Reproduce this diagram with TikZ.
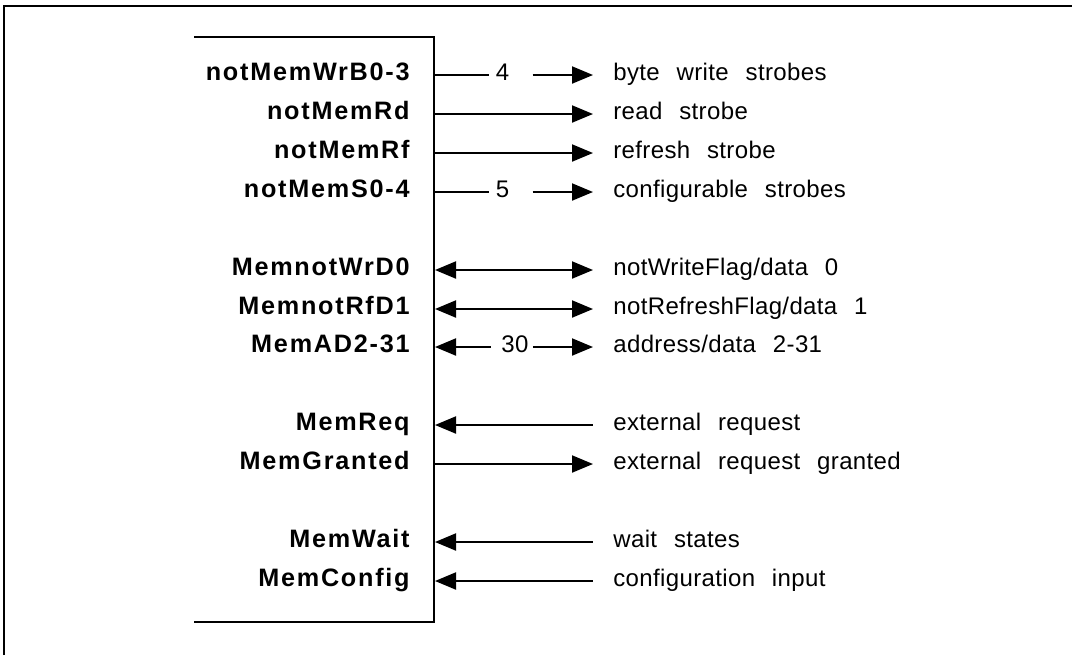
\documentclass[tikz,border=0pt]{standalone}
\usepackage{fontspec}
\setmainfont{Liberation Sans}
\newfontfamily\pinfont[LetterSpace=7]{Liberation Sans}
\newfontfamily\descfont[WordSpace=2.4,LetterSpace=1.5]{Liberation Sans}
\usetikzlibrary{arrows.meta}

\tikzset{
  frame/.style={line width=0.8pt},
  chip/.style={line width=1pt},
  pin/.style={font=\pinfont\bfseries\fontsize{12.6pt}{14pt}\selectfont, anchor=base east, inner sep=0pt},
  desc/.style={font=\descfont\fontsize{12pt}{14pt}\selectfont, anchor=base west, inner sep=0pt},
  buswidth/.style={font=\descfont\fontsize{12pt}{14pt}\selectfont, anchor=base, inner sep=0pt},
  wire/.style={line width=1pt},
  outwire/.style={wire, -{Triangle[length=10.5pt,width=8.5pt]}},
  inwire/.style={wire, {Triangle[length=10.5pt,width=8.5pt]}-},
  biwire/.style={wire, {Triangle[length=10.5pt,width=8.5pt]}-{Triangle[length=10.5pt,width=8.5pt]}}
}

\begin{document}
\begin{tikzpicture}[x=0.5pt, y=-0.5pt]
  \useasboundingbox (0,0) rectangle (1072,655);
  % frame and chip outline
  \draw[frame] (4,655) |- (1072,6);
  \draw[chip] (194,37) -| (434,622) -- (194,622);

  % strobes
  \node[pin] (pWrB) at (410,80) {notMemWrB0-3};
  \node[desc] (dWrB) at (613,80) {byte write strobes};
  \node[buswidth] (wWrB) at (502.5,80) {4};
  \coordinate (eWrB) at (434,75);
  \coordinate (tWrB) at (593,75);
  \draw[wire] (eWrB) -- ([xshift=-3pt]wWrB.west |- eWrB);
  \draw[outwire] ([xshift=11.5pt]wWrB.east |- eWrB) -- (tWrB);

  \node[pin] (pRd) at (410,119) {notMemRd};
  \node[desc] (dRd) at (613,119) {read strobe};
  \coordinate (eRd) at (434,114);
  \coordinate (tRd) at (593,114);
  \draw[outwire] (eRd) -- (tRd);

  \node[pin] (pRf) at (410,158) {notMemRf};
  \node[desc] (dRf) at (613,158) {refresh strobe};
  \coordinate (eRf) at (434,153);
  \coordinate (tRf) at (593,153);
  \draw[outwire] (eRf) -- (tRf);

  \node[pin] (pS) at (410,197) {notMemS0-4};
  \node[desc] (dS) at (613,197) {configurable strobes};
  \node[buswidth] (wS) at (502.5,197) {5};
  \coordinate (eS) at (434,192);
  \coordinate (tS) at (593,192);
  \draw[wire] (eS) -- ([xshift=-3pt]wS.west |- eS);
  \draw[outwire] ([xshift=11.5pt]wS.east |- eS) -- (tS);

  % address/data bus
  \node[pin] (pWrD) at (410,275) {MemnotWrD0};
  \node[desc] (dWrD) at (613,275) {notWriteFlag/data 0};
  \coordinate (eWrD) at (435,270);
  \coordinate (tWrD) at (593,270);
  \draw[biwire] (eWrD) -- (tWrD);

  \node[pin] (pRfD) at (410,314) {MemnotRfD1};
  \node[desc] (dRfD) at (613,314) {notRefreshFlag/data 1};
  \coordinate (eRfD) at (435,309);
  \coordinate (tRfD) at (593,309);
  \draw[biwire] (eRfD) -- (tRfD);

  \node[pin] (pAD) at (410,352) {MemAD2-31};
  \node[desc] (dAD) at (613,352) {address/data 2-31};
  \node[buswidth] (wAD) at (515,352) {30};
  \coordinate (eAD) at (435,347);
  \coordinate (tAD) at (593,347);
  \draw[inwire] (eAD) -- ([xshift=-5pt]wAD.west |- eAD);
  \draw[outwire] ([xshift=2pt]wAD.east |- eAD) -- (tAD);

  % external access
  \node[pin] (pReq) at (410,430) {MemReq};
  \node[desc] (dReq) at (613,430) {external request};
  \coordinate (eReq) at (435,425);
  \coordinate (tReq) at (593,425);
  \draw[inwire] (eReq) -- (tReq);

  \node[pin] (pGnt) at (410,469) {MemGranted};
  \node[desc] (dGnt) at (613,469) {external request granted};
  \coordinate (eGnt) at (434,464);
  \coordinate (tGnt) at (593,464);
  \draw[outwire] (eGnt) -- (tGnt);

  % wait states and configuration
  \node[pin] (pWait) at (410,547) {MemWait};
  \node[desc] (dWait) at (613,547) {wait states};
  \coordinate (eWait) at (435,542);
  \coordinate (tWait) at (593,542);
  \draw[inwire] (eWait) -- (tWait);

  \node[pin] (pCfg) at (410,586) {MemConfig};
  \node[desc] (dCfg) at (613,586) {configuration input};
  \coordinate (eCfg) at (435,581);
  \coordinate (tCfg) at (593,581);
  \draw[inwire] (eCfg) -- (tCfg);
\end{tikzpicture}
\end{document}
